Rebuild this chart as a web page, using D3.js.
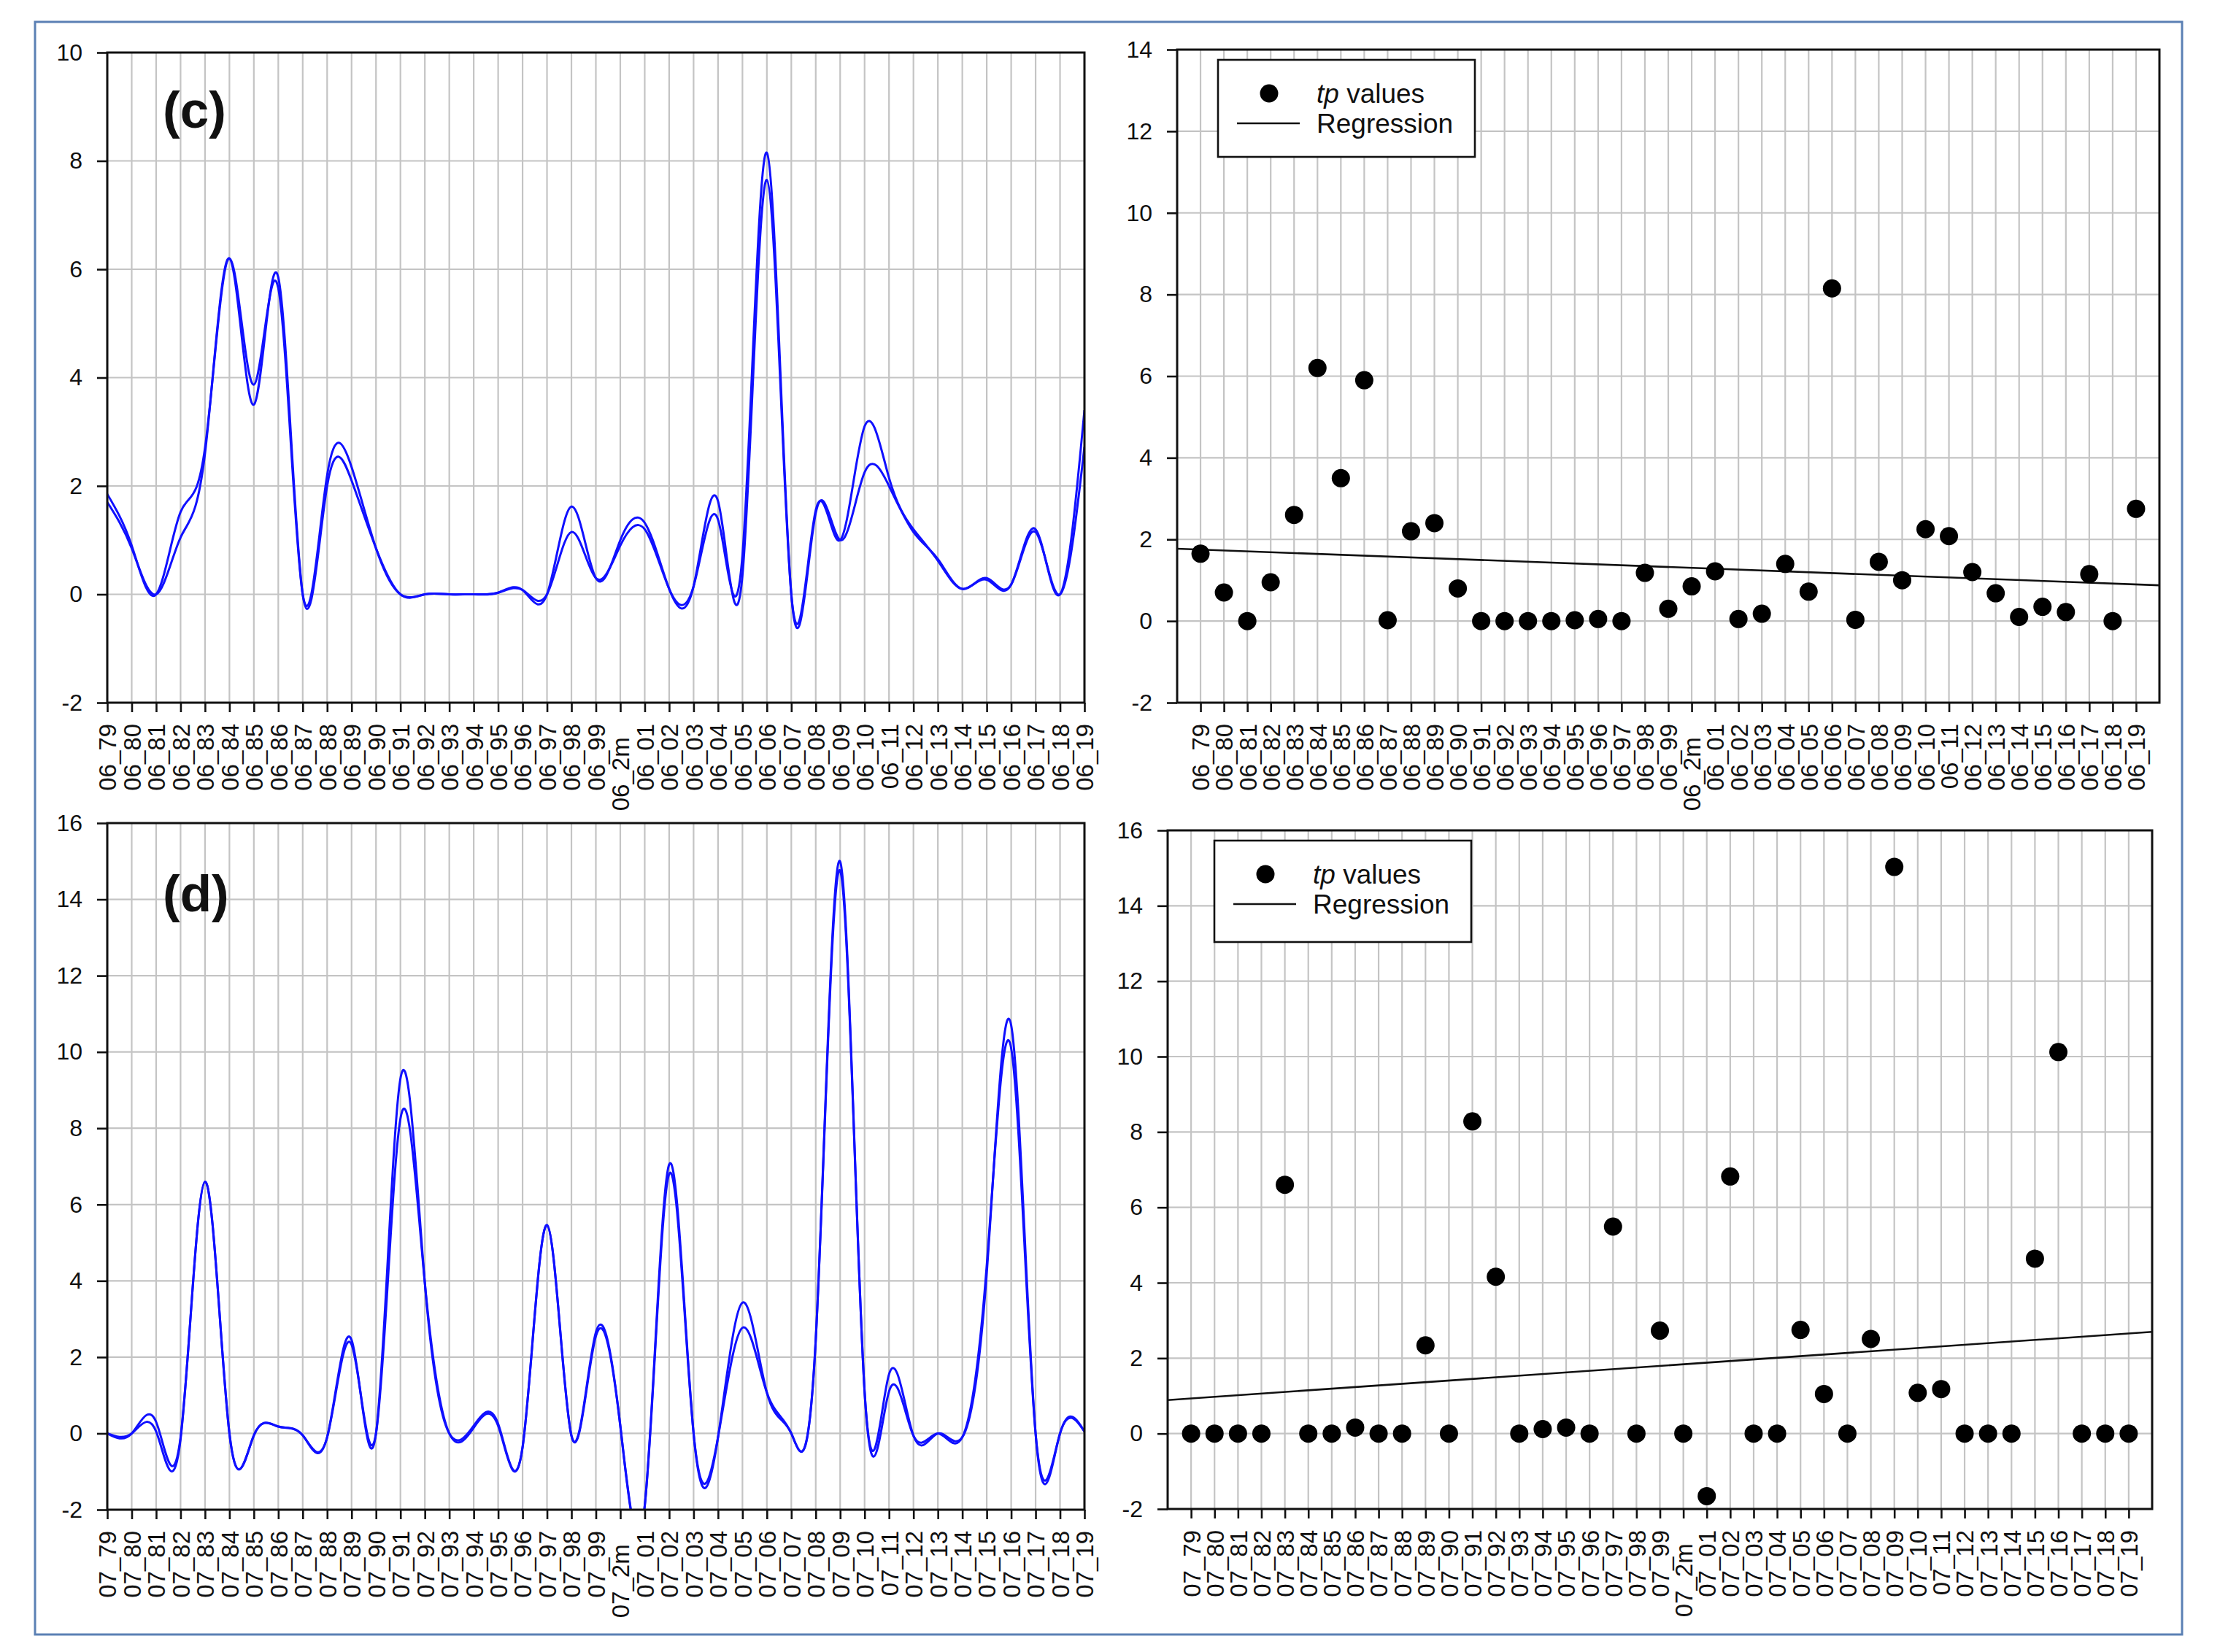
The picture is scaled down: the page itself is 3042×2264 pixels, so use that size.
<!DOCTYPE html>
<html>
<head>
<meta charset="utf-8">
<script src="https://cdn.jsdelivr.net/npm/d3@7"></script>
<style>
  body { margin: 0; background: #fff; }
  text { font-family: "Liberation Sans", Arial, sans-serif; }
</style>
</head>
<body>
<svg id="fig" width="3042" height="2264"></svg>
<script>
// year codes on the category axis (2000 is written "2m" in the source)
var yearCodes = ["79","80","81","82","83","84","85","86","87","88","89","90","91","92","93","94","95","96","97","98","99",
                 "2m","01","02","03","04","05","06","07","08","09","10","11","12","13","14","15","16","17","18","19"];
var cats06 = yearCodes.map(function(c) { return "06_" + c; });
var cats07 = yearCodes.map(function(c) { return "07_" + c; });

// tp values, June (c)
var tp06 = [1.65,0.7,0,0.95,2.6,6.2,3.5,5.9,0.02,2.2,2.4,0.8,0,0,0,0,0.02,0.05,0,1.18,0.3,
            0.85,1.22,0.05,0.18,1.4,0.72,8.15,0.03,1.45,1.0,2.25,2.08,1.2,0.68,0.1,0.35,0.22,1.15,0,2.75];
// the two smoothed curves of (c)
var curveA06 = [1.7,0.85,0,1.05,2.6,6.2,3.5,5.85,0,2.0,2.1,0.85,0,0,0,0,0.03,0.08,0,1.15,0.3,
                0.9,1.2,0.1,0.15,1.38,0.72,8.15,0,1.5,1.0,2.25,2.0,1.15,0.65,0.1,0.3,0.18,1.15,0,2.72];
var curveB06 = [1.85,0.9,0,1.52,2.7,6.2,3.87,5.65,0,2.2,2.35,0.85,0,0,0,0,0.03,0.08,0,1.62,0.3,
                1.0,1.32,0.1,0.15,1.72,0.35,7.65,0,1.55,1.0,3.1,2.15,1.2,0.62,0.1,0.27,0.18,1.2,0,3.4];

// tp values, July (d)
var tp07 = [0,0,0,0,6.6,0,0,0.16,0,0,2.34,0,8.28,4.16,0,0.12,0.16,0,5.49,0,2.73,
            0,-1.66,6.82,0,0,2.75,1.05,0,2.51,15.03,1.08,1.18,0,0,0,4.64,10.12,0,0,0];
var curveA07 = [0,0,0.05,-0.15,6.6,0,-0.05,0.18,-0.05,-0.1,2.33,0,8.25,3.94,0,0.15,0.2,-0.36,5.46,-0.06,2.55,
                0.2,-1.9,6.8,0,-0.1,2.77,1.07,0,2.45,14.75,1.1,1.1,-0.06,0,-0.1,4.4,10.1,0,0,0.05];
var curveB07 = [0,0,0.3,-0.1,6.6,0,-0.05,0.18,-0.05,-0.1,2.45,0,9.3,3.94,0,0.2,0.25,-0.36,5.46,-0.06,2.65,
                0.2,-1.9,7.05,0,-0.1,3.43,1.07,0,2.45,14.99,1.1,1.55,-0.06,0,-0.1,4.2,10.7,0,0,0.05];

var svg = d3.select("#fig");

// outer frame
svg.append("rect")
    .attr("x", 48).attr("y", 30).attr("width", 2942).attr("height", 2210)
    .attr("fill", "none").attr("stroke", "#5b80b4").attr("stroke-width", 3);

var clipId = 0;
var FONT = "'Liberation Sans', Arial, sans-serif";

function labelFormat(d) {
    // the 2000 label sits a little lower than the others in the source
    return d.slice(3) === "2m" ? d + "\u00a0\u00a0" : d;
}

function drawPanel(o) {
    var g = svg.append("g");
    var x = d3.scalePoint().domain(o.cats).range([o.x0, o.x1]).padding(o.pad);
    var y = d3.scaleLinear().domain(o.yDomain).range([o.y1, o.y0]);
    var yTicks = d3.range(o.yDomain[0], o.yDomain[1] + 0.1, 2);

    // grid
    g.append("g").selectAll("line").data(o.cats).join("line")
        .attr("x1", function(d) { return x(d); }).attr("x2", function(d) { return x(d); })
        .attr("y1", o.y0).attr("y2", o.y1)
        .attr("stroke", "#c4c4c4").attr("stroke-width", 2.2);
    g.append("g").selectAll("line").data(yTicks).join("line")
        .attr("x1", o.x0).attr("x2", o.x1)
        .attr("y1", function(d) { return y(d); }).attr("y2", function(d) { return y(d); })
        .attr("stroke", "#c4c4c4").attr("stroke-width", 2.2);

    // axes
    var xa = g.append("g").attr("transform", "translate(0," + o.y1 + ")")
        .call(d3.axisBottom(x).tickSize(13).tickSizeOuter(0).tickFormat(labelFormat));
    xa.select(".domain").remove();
    xa.selectAll("line").attr("stroke", "#111").attr("stroke-width", 2.6);
    xa.selectAll("text")
        .attr("transform", "rotate(-90)")
        .attr("text-anchor", "end")
        .attr("x", -29).attr("y", 0).attr("dy", "0.36em")
        .attr("font-size", 33).attr("fill", "#111")
        .style("font-family", FONT);

    var ya = g.append("g").attr("transform", "translate(" + o.x0 + ",0)")
        .call(d3.axisLeft(y).tickValues(yTicks).tickSize(14).tickPadding(20).tickSizeOuter(0)
              .tickFormat(function(d) { return String(d); }));
    ya.select(".domain").remove();
    ya.selectAll("line").attr("stroke", "#111").attr("stroke-width", 2.6);
    ya.selectAll("text")
        .attr("font-size", 32).attr("fill", "#111")
        .style("font-family", FONT);

    // clip for curves
    var cid = "clip" + (clipId++);
    svg.append("clipPath").attr("id", cid).append("rect")
        .attr("x", o.x0).attr("y", o.y0).attr("width", o.x1 - o.x0).attr("height", o.y1 - o.y0);

    if (o.curves) {
        var line = d3.line()
            .x(function(d, i) { return x(o.cats[i]); })
            .y(function(d) { return y(d); })
            .curve(d3.curveNatural);
        g.append("g").attr("clip-path", "url(#" + cid + ")")
            .selectAll("path").data(o.curves).join("path")
            .attr("d", line)
            .attr("fill", "none").attr("stroke", "#1010ff").attr("stroke-width", 3);
    }

    if (o.points) {
        // least squares regression on category index
        var n = o.points.length;
        var mx = d3.mean(o.points, function(d, i) { return i; });
        var my = d3.mean(o.points);
        var sxy = d3.sum(o.points, function(d, i) { return (i - mx) * (d - my); });
        var sxx = d3.sum(o.points, function(d, i) { return (i - mx) * (i - mx); });
        var slope = sxy / sxx, icpt = my - slope * mx;
        var step = x.step(), first = x(o.cats[0]);
        var ends = [-o.pad, n - 1 + o.pad];
        g.append("line")
            .attr("x1", first + ends[0] * step).attr("x2", first + ends[1] * step)
            .attr("y1", y(icpt + slope * ends[0])).attr("y2", y(icpt + slope * ends[1]))
            .attr("stroke", "#111").attr("stroke-width", 2.6);

        g.append("g").selectAll("circle").data(o.points).join("circle")
            .attr("cx", function(d, i) { return x(o.cats[i]); })
            .attr("cy", function(d) { return y(d); })
            .attr("r", 12.5).attr("fill", "#000");

        // legend
        var lg = g.append("g").attr("transform", "translate(" + (o.x0 + o.leg[0]) + "," + (o.y0 + o.leg[1]) + ")");
        lg.append("rect").attr("width", 352).attr("height", o.leg[2])
            .attr("fill", "#fff").attr("stroke", "#111").attr("stroke-width", 2.6);
        lg.append("circle").attr("cx", 70).attr("cy", 46).attr("r", 12.5).attr("fill", "#000");
        var t1 = lg.append("text").attr("x", 135).attr("y", 59).attr("font-size", 37).attr("fill", "#111");
        t1.append("tspan").attr("font-style", "italic").text("tp");
        t1.append("tspan").text(" values");
        lg.append("line").attr("x1", 26).attr("x2", 112).attr("y1", 87).attr("y2", 87)
            .attr("stroke", "#111").attr("stroke-width", 2.6);
        lg.append("text").attr("x", 135).attr("y", 100).attr("font-size", 37).attr("fill", "#111").text("Regression");
    }

    // plot frame
    g.append("rect")
        .attr("x", o.x0).attr("y", o.y0).attr("width", o.x1 - o.x0).attr("height", o.y1 - o.y0)
        .attr("fill", "none").attr("stroke", "#111").attr("stroke-width", 3);

    if (o.tag) {
        g.append("text").attr("x", o.x0 + 76).attr("y", o.tagY)
            .attr("font-size", 71).attr("font-weight", "bold").attr("fill", "#111").text(o.tag);
    }
}

drawPanel({ cats: cats06, x0: 147, x1: 1486, y0: 72, y1: 963, yDomain: [-2, 10], pad: 0,
            curves: [curveA06, curveB06], tag: "(c)", tagY: 175 });
drawPanel({ cats: cats06, x0: 1613, x1: 2959, y0: 68, y1: 963, yDomain: [-2, 14], pad: 1,
            points: tp06, leg: [56, 14, 133] });
drawPanel({ cats: cats07, x0: 147, x1: 1486, y0: 1128, y1: 2069, yDomain: [-2, 16], pad: 0,
            curves: [curveA07, curveB07], tag: "(d)", tagY: 1249 });
drawPanel({ cats: cats07, x0: 1600, x1: 2949, y0: 1138, y1: 2068, yDomain: [-2, 16], pad: 1,
            points: tp07, leg: [64, 14, 139] });
</script>
</body>
</html>
